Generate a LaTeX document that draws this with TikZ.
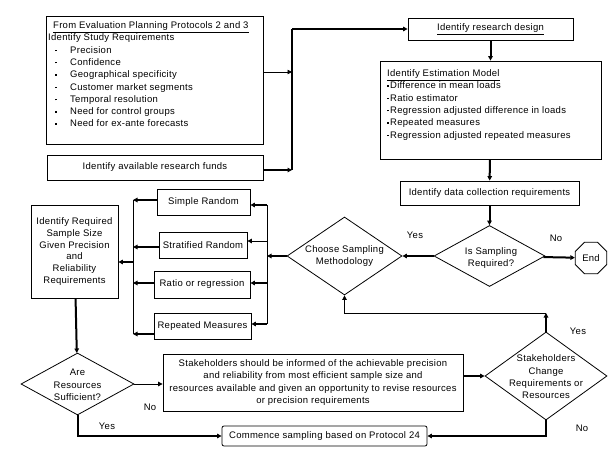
\documentclass[tikz,border=0pt]{standalone}
\usepackage{fontspec}
\setmainfont[LetterSpace=3]{Liberation Sans}
\usetikzlibrary{positioning,arrows.meta,shapes.geometric}
\newcommand\dfont{\fontsize{9.5}{12.3}\selectfont}
\newcommand\blt{\makebox[22pt][l]{\hspace{7pt}\rule[2pt]{1.5pt}{1.5pt}}}
\newcommand\sblt{\rule[2pt]{1.5pt}{1.5pt}\hspace{1.5pt}}

\begin{document}
\begin{tikzpicture}[x=1pt, y=-1pt,
  box/.style={draw, line width=0.8pt, font=\dfont, align=center, inner sep=0pt},
  txt/.style={font=\dfont, align=left, inner sep=0pt, anchor=north west},
  dec/.style={draw, line width=0.8pt, diamond, inner sep=0pt},
  lab/.style={font=\dfont, align=center, inner sep=0pt},
  arr/.style={-{Triangle[length=4.5pt,width=4.5pt]}, line width=0.8pt},
  tarr/.style={-{Triangle[length=4.5pt,width=4.5pt]}, line width=2pt},
  ln/.style={line width=0.8pt}]
\useasboundingbox[fill=white] (0,0) rectangle (615,462);
\node[box, minimum width=217pt, minimum height=128pt] (req) at (154.5,80) {};
\node[txt] (reqtxt) at (48,21.5) {\hspace{5pt}\underline{From Evaluation Planning Protocols 2 and 3}\\
  Identify Study Requirements\\ \blt Precision\\ \blt Confidence\\ \blt Geographical specificity\\
  \blt Customer market segments\\ \blt Temporal resolution\\ \blt Need for control groups\\
  \blt Need for ex-ante forecasts};
\node[box, minimum width=216pt, minimum height=25pt] (funds) at (155,167.5) {Identify available research funds};
\node[box, minimum width=165pt, minimum height=22pt] (design) at (490.5,29) {\underline{Identify research design}};
\node[box, minimum width=221pt, minimum height=98pt] (model) at (490.5,110) {};
\node[txt] (modeltxt) at (387,69.5) {\underline{Identify Estimation Model}\\ \sblt Difference in mean loads\\
  \sblt Ratio estimator\\ \sblt Regression adjusted difference in loads\\ \sblt Repeated measures\\
  \sblt Regression adjusted repeated measures};
\node[box, minimum width=179pt, minimum height=24pt] (data) at (489.5,193) {Identify data collection requirements};
\node[dec, minimum width=111pt, minimum height=61pt] (isreq) at (489.5,256) {};
\node[lab] (isreqtxt) at (491,258) {Is Sampling\\Required?};
\node[draw, line width=0.8pt, regular polygon, regular polygon sides=8, minimum size=34pt, font=\dfont, inner sep=0pt] (endn) at (591,258) {End};
\node[dec, minimum width=115pt, minimum height=78pt] (choose) at (344.5,256) {};
\node[lab] (choosetxt) at (344.5,256) {Choose Sampling\\Methodology};
\node[box, minimum width=93pt, minimum height=26pt] (simple) at (203.5,202) {Simple Random};
\node[box, minimum width=88pt, minimum height=26pt] (strat) at (203,245) {Stratified Random};
\node[box, minimum width=96pt, minimum height=27pt] (ratio) at (202,284.5) {Ratio or regression};
\node[box, minimum width=97pt, minimum height=26pt] (repm) at (202.5,326) {Repeated Measures};
\node[box, minimum width=87pt, minimum height=93pt, font=\fontsize{9.5}{11.8}\selectfont] (size) at (74.5,251.5)
  {Identify Required\\Sample Size\\Given Precision\\and\\Reliability\\Requirements};
\node[dec, minimum width=113pt, minimum height=62pt] (are) at (77.5,384) {};
\node[lab] (aretxt) at (77.5,385) {Are\\Resources\\Sufficient?};
\node[box, minimum width=300pt, minimum height=57pt] (inform) at (313,382.5)
  {Stakeholders should be informed of the achievable precision\\and reliability from most efficient sample size and\\
   resources available and given an opportunity to revise resources\\or precision requirements};
\node[dec, minimum width=122pt, minimum height=88pt] (sc) at (546,376) {};
\node[lab] (sctxt) at (546,377) {Stakeholders\\Change\\Requirements or\\Resources};
\node[box, rounded corners=2pt, minimum width=205pt, minimum height=20pt] (comm) at (324.5,436) {Commence sampling based on Protocol 24};
\node[lab] (yes1) at (415,235) {Yes};
\node[lab] (no1) at (556,238) {No};
\node[lab] (yes2) at (578,331) {Yes};
\node[lab] (no2) at (150,407) {No};
\node[lab] (yes3) at (107,426) {Yes};
\node[lab] (no3) at (582,428) {No};
\coordinate (j1) at (292,72);
\coordinate (j2) at (292,170);
\coordinate (j3) at (292,29);
\coordinate (rb1) at (267,205);
\coordinate (rb2) at (267,241);
\coordinate (rb3) at (267,283);
\coordinate (rb4) at (267,324);
\coordinate (lb1) at (133,200);
\coordinate (lb2) at (133,247);
\coordinate (lb3) at (133,283);
\coordinate (lb4) at (133,334);
\coordinate (lbm) at (133,262);
\coordinate (ys) at (546,313);
\draw[arr] (req.east |- j1) -- (j1);
\draw[tarr] (funds.east |- j2) -- (j2);
\draw[line width=1.4pt] (j2) -- (j3);
\draw[tarr] (j3) -- (design.west);
\draw[tarr] (design) -- (model);
\draw[tarr] (model) -- (data);
\draw[tarr] (data) -- (isreq);
\draw[tarr] (isreq) -- (endn);
\draw[tarr] (isreq) -- (choose);
\draw[tarr] (choose.west) -- (choose.west -| rb1);
\draw[ln] (rb1) -- (rb4);
\draw[tarr] (rb1) -- (rb1 -| simple.east);
\draw[arr] (rb2) -- (rb2 -| strat.east);
\draw[tarr] (rb3) -- (rb3 -| ratio.east);
\draw[tarr] (rb4) -- (rb4 -| repm.east);
\draw[tarr] (simple.west |- lb1) -- (lb1);
\draw[tarr] (strat.west |- lb2) -- (lb2);
\draw[tarr] (ratio.west |- lb3) -- (lb3);
\draw[tarr] (repm.west |- lb4) -- (lb4);
\draw[ln] (lb1) -- (lb4);
\draw[arr, line width=1.2pt] (lbm) -- (lbm -| size.east);
\draw[tarr] (size) -- (are);
\draw[arr] (are.east) -- (are.east -| inform.west);
\draw[tarr] (are.south) |- (comm.west);
\draw[tarr] (inform.east |- sc.west) -- (sc.west);
\draw[tarr] (sc.north) -- (ys);
\draw[arr] (ys) -| (choose.south);
\draw[tarr] (sc.south) |- (comm.east);
\end{tikzpicture}
\end{document}
